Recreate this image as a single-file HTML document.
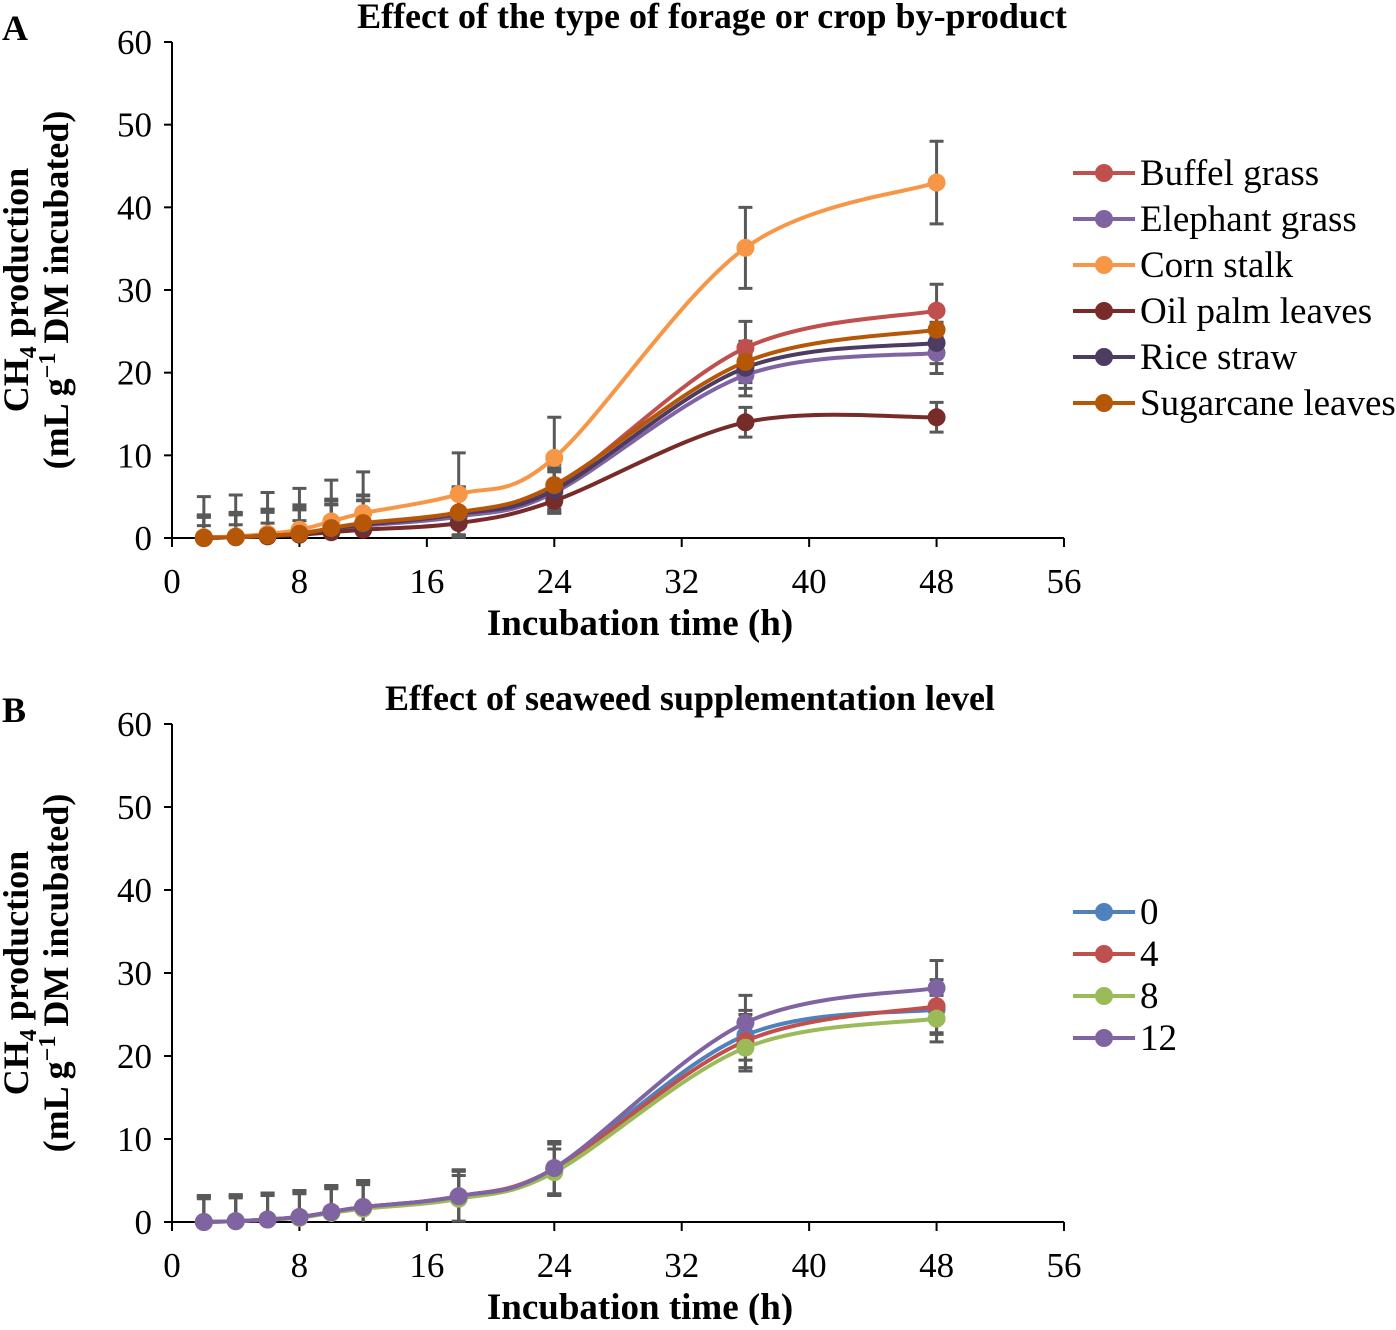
<!DOCTYPE html>
<html><head><meta charset="utf-8"><style>
body{margin:0;background:#fff}
svg text{font-family:"Liberation Serif",serif;fill:#000}
</style></head><body>
<svg id="c" width="1396" height="1325" xmlns="http://www.w3.org/2000/svg"></svg>
<script>
const hours=[2,4,6,8,10,12,18,24,36,48];
const xTicks=[0,8,16,24,32,40,48,56];
const yTicks=[0,10,20,30,40,50,60];
const namesA=["Buffel grass","Elephant grass","Corn stalk","Oil palm leaves","Rice straw","Sugarcane leaves"];
const colorsA=["#c0504d","#8064a2","#f79646","#772c2a","#4d3b62","#b65708"];
const buffel=[0,0.1,0.3,0.6,1.1,1.7,3.0,6.0,23.0,27.5];
const elephant=[0,0.1,0.3,0.5,1.0,1.5,2.6,5.5,19.7,22.4];
const corn=[0.1,0.2,0.5,1.0,2.0,3.0,5.3,9.7,35.1,43.0];
const oilpalm=[0,0.1,0.2,0.4,0.7,1.0,1.8,4.5,14.0,14.6];
const rice=[0,0.1,0.3,0.5,1.1,1.6,2.9,5.8,20.6,23.6];
const sugarcane=[0,0.1,0.3,0.5,1.2,1.8,3.1,6.4,21.3,25.2];
const errA=[[2.8,3.0,3.2,3.4,3.6,3.5,3.2,2.5,3.2,3.2],[2.5,2.7,2.8,2.9,3.0,3.0,2.5,2.5,2.5,2.5],[4.9,5.0,5.0,5.0,5.0,5.0,5.0,4.9,4.9,5.0],[1.5,1.5,1.6,1.7,1.8,1.8,1.5,1.5,1.8,1.8],[2.6,2.8,3.0,3.0,3.0,3.0,2.5,2.5,2.5,2.5],[2.7,2.9,3.1,3.3,3.3,3.3,3.0,2.5,2.5,2.5]];
const namesB=["0","4","8","12"];
const colorsB=["#4f81bd","#c0504d","#9bbb59","#8064a2"];
const lvl0=[0,0.1,0.3,0.6,1.2,1.8,3.1,6.4,22.5,25.6];
const lvl4=[0,0.1,0.3,0.6,1.2,1.8,3.1,6.4,21.8,26.0];
const lvl8=[0,0.1,0.3,0.5,1.1,1.6,2.8,6.0,21.0,24.5];
const lvl12=[0,0.1,0.3,0.6,1.2,1.8,3.1,6.5,24.0,28.2];
const errB=[[3.0,3.0,3.1,3.1,3.0,3.0,3.0,3.0,3.0,3.0],[3.1,3.1,3.1,3.1,3.1,3.1,3.1,3.1,3.2,3.2],[2.8,2.8,2.9,2.9,2.9,2.9,2.8,2.8,2.8,2.8],[3.2,3.2,3.2,3.2,3.2,3.2,3.2,3.2,3.3,3.3]];

const S=document.getElementById('c');const NS="http://www.w3.org/2000/svg";
function el(t,a,p){const e=document.createElementNS(NS,t);for(const k in a)e.setAttribute(k,a[k]);(p||S).appendChild(e);return e;}
function spline(pts){let d=`M${pts[0][0]},${pts[0][1]}`;
for(let i=0;i<pts.length-1;i++){const p0=pts[i-1]||pts[i],p1=pts[i],p2=pts[i+1],p3=pts[i+2]||p2;
const c1=[p1[0]+(p2[0]-p0[0])/6,p1[1]+(p2[1]-p0[1])/6],c2=[p2[0]-(p3[0]-p1[0])/6,p2[1]-(p3[1]-p1[1])/6];
d+=` C${c1[0]},${c1[1]} ${c2[0]},${c2[1]} ${p2[0]},${p2[1]}`;}return d;}

function panel(cfg){
 const x=v=>172+v*(1064-172)/56, y=v=>cfg.y0-v*(cfg.y0-cfg.y60)/60;
 const g=el('g',{});
 
 
 el('text',{x:2,y:cfg.y60-2,'font-size':36,'font-weight':'bold',},g).textContent=cfg.letter;
 el('text',{x:cfg.tx,y:cfg.y60-14,'font-size':36,'font-weight':'bold','text-anchor':'middle',},g).textContent=cfg.title;
 el('line',{x1:172,y1:cfg.y60,x2:172,y2:cfg.y0,stroke:'#000','stroke-width':2,},g);
 el('line',{x1:172,y1:cfg.y0,x2:1064,y2:cfg.y0,stroke:'#000','stroke-width':2,},g);
 yTicks.forEach(v=>{el('line',{x1:164,y1:y(v),x2:172,y2:y(v),stroke:'#000','stroke-width':2},g);
  const t=el('text',{x:152,y:y(v)+12,'font-size':35,'text-anchor':'end'},g);t.textContent=v;
  
  });
 xTicks.forEach(v=>{el('line',{x1:x(v),y1:cfg.y0,x2:x(v),y2:cfg.y0+9,stroke:'#000','stroke-width':2},g);
  const t=el('text',{x:x(v),y:cfg.y0+55,'font-size':35,'text-anchor':'middle'},g);t.textContent=v;
  
  });
 el('text',{x:640,y:cfg.y0+97,'font-size':37,'font-weight':'bold','text-anchor':'middle',},g).textContent='Incubation time (h)';
 const yc=(cfg.y0+cfg.y60)/2;
 const yt=el('text',{transform:`translate(28,${yc}) rotate(-90)`,'font-size':36,'font-weight':'bold','text-anchor':'middle',},g);
 yt.innerHTML='CH<tspan font-size="24" dy="8">4</tspan><tspan dy="-8"> production</tspan>';
 const yt2=el('text',{transform:`translate(68,${yc}) rotate(-90)`,'font-size':36,'font-weight':'bold','text-anchor':'middle',},g);
 yt2.innerHTML='(mL g<tspan font-size="24" dy="-13">−1</tspan><tspan dy="13"> DM incubated)</tspan>';
 cfg.series.forEach((s,i)=>{s.forEach((v,j)=>{const e=cfg.err[i][j];const xx=x(hours[j]);
  const lo=Math.max(0,v-e);
  let d=`M${xx},${y(lo)}V${y(v+e)}M${xx-7},${y(v+e)}H${xx+7}`;
  if(v-e>0)d+=`M${xx-7},${y(v-e)}H${xx+7}`;
  const b=el('path',{d:d,stroke:'#595959','stroke-width':3,fill:'none'},g);
  
  });});
 cfg.series.forEach((s,i)=>{const pts=s.map((v,j)=>[x(hours[j]),y(v)]);
  const p=el('path',{d:spline(pts),stroke:cfg.colors[i],'stroke-width':4,fill:'none'},g);
  
  
  pts.forEach(q=>{const c=el('circle',{cx:q[0],cy:q[1],r:9,fill:cfg.colors[i]},g);
   
   });});
 cfg.names.forEach((n,i)=>{const ly=cfg.ly+i*cfg.ls;
  const lg=el('g',{},g);
  
  
  el('line',{x1:1073,y1:ly,x2:1135,y2:ly,stroke:cfg.colors[i],'stroke-width':4},lg);
  el('circle',{cx:1104,cy:ly,r:9,fill:cfg.colors[i]},lg);
  el('text',{x:1140,y:ly+12,'font-size':37},lg).textContent=n;});
}
panel({id:'a',letter:'A',title:'Effect of the type of forage or crop by-product',tx:712,y0:538,y60:42,
 series:[buffel,elephant,corn,oilpalm,rice,sugarcane],err:errA,names:namesA,colors:colorsA,ly:173,ls:46});
panel({id:'b',letter:'B',title:'Effect of seaweed supplementation level',tx:690,y0:1222,y60:724,
 series:[lvl0,lvl4,lvl8,lvl12],err:errB,names:namesB,colors:colorsB,ly:912,ls:42});
</script>
</body></html>
